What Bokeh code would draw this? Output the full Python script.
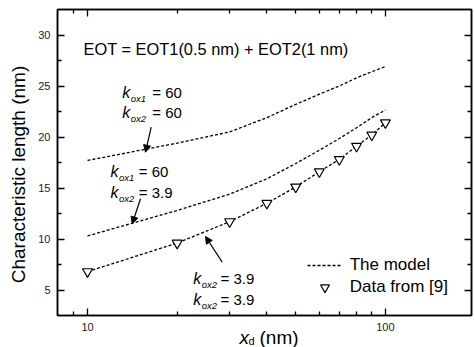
import math
from bokeh.plotting import figure
from bokeh.models import (Range1d, LogAxis, LinearAxis, FixedTicker, Label, Arrow,
                          NormalHead, Legend, LegendItem, PrintfTickFormatter)
from bokeh.embed import file_html
from bokeh.resources import INLINE

# ---------------- data ----------------
xd = [10, 20, 30, 40, 50, 60, 70, 80, 90, 100]
model_k60_k60 = [17.7, 19.4, 20.5, 21.9, 23.2, 24.2, 25.0, 25.8, 26.4, 26.9]
model_k60_k39 = [10.3, 12.8, 14.4, 15.9, 17.4, 18.7, 19.85, 20.9, 21.9, 22.65]
model_k39_k39 = [6.8, 9.6, 11.7, 13.5, 15.1, 16.6, 17.8, 19.1, 20.2, 21.4]
data_x = [10, 20, 30, 40, 50, 60, 70, 80, 90, 100]
data_y = [6.8, 9.6, 11.7, 13.5, 15.1, 16.6, 17.8, 19.1, 20.2, 21.4]

x_major = [10, 100]
x_minor = [9, 20, 30, 40, 50, 60, 70, 80, 90, 200]
y_major = [5, 10, 15, 20, 25, 30]
y_minor = [7.5, 12.5, 17.5, 22.5, 27.5]

title_text = "EOT = EOT1(0.5 nm) + EOT2(1 nm)"
legend_labels = ["The model", "Data from [9]"]
y_label = "Characteristic length (nm)"

# ---------------- layout ----------------
W, H = 474, 347
FL, FT, FW, FH = 57, 9, 414, 306
X0, X1 = 7.93, 194.5
Y0, Y1 = 2.5, 32.5
FONT = "Liberation Sans"


def X(px):
    return 10 ** (math.log10(X0) + (px - FL) / FW * math.log10(X1 / X0))


def Y(py):
    return Y1 - (py - FT) / FH * (Y1 - Y0)


p = figure(width=W, height=H, x_axis_type="log",
           x_range=Range1d(X0, X1), y_range=Range1d(Y0, Y1),
           output_backend="svg", toolbar_location=None,
           min_border_left=FL, min_border_top=FT,
           min_border_right=W - FL - FW, min_border_bottom=H - FT - FH)
p.background_fill_color = "white"
p.border_fill_color = "white"
p.outline_line_color = "black"
p.outline_line_width = 1.5
p.xgrid.visible = False
p.ygrid.visible = False

xt = FixedTicker(ticks=x_major, minor_ticks=x_minor)
yt = FixedTicker(ticks=y_major, minor_ticks=y_minor)


def style_axis(ax, labels=True):
    ax.axis_line_color = "black"
    ax.axis_line_width = 1.5
    ax.major_tick_in = 7
    ax.major_tick_out = 0
    ax.minor_tick_in = 4
    ax.minor_tick_out = 0
    ax.major_tick_line_color = "black"
    ax.minor_tick_line_color = "black"
    ax.major_tick_line_width = 1.3
    ax.minor_tick_line_width = 1.3
    if labels:
        ax.major_label_text_font = FONT
        ax.major_label_text_font_size = "11px"
        ax.major_label_text_color = "#222222"
        ax.major_label_standoff = 7
    else:
        ax.major_label_text_font_size = "1px"
        ax.major_label_text_alpha = 0
        ax.major_label_standoff = 0


p.xaxis[0].ticker = xt
p.xaxis[0].formatter = PrintfTickFormatter(format="%d")
p.yaxis[0].ticker = yt
style_axis(p.xaxis[0])
style_axis(p.yaxis[0])

top = LogAxis(ticker=xt)
style_axis(top, labels=False)
p.add_layout(top, "above")
right = LinearAxis(ticker=yt)
style_axis(right, labels=False)
p.add_layout(right, "right")

# ---------------- curves ----------------
dash = dict(line_color="black", line_width=1.3, line_dash="3 2")
r_model = p.line(xd, model_k60_k60, **dash)
p.line(xd, model_k60_k39, **dash)
p.line(xd, model_k39_k39, **dash)
r_data = p.scatter(data_x, data_y, marker="inverted_triangle", size=10,
                   fill_color="white", line_color="black", line_width=1.2)

legend = Legend(items=[LegendItem(label=legend_labels[0], renderers=[r_model]),
                       LegendItem(label=legend_labels[1], renderers=[r_data])],
                location=(249.7, 17), padding=0, margin=0, spacing=0,
                glyph_width=35, glyph_height=22, label_height=22,
                label_standoff=8, border_line_alpha=0, background_fill_alpha=0,
                label_text_font=FONT, label_text_font_size="17px",
                label_text_color="black")
p.add_layout(legend)


# ---------------- texts inside the frame ----------------
def lab(fig, x, y, text, size, italic=False, baseline="alphabetic", align="left", angle=0.0):
    fig.add_layout(Label(x=x, y=y, text=text, text_font=FONT,
                         text_font_size=size,
                         text_font_style="italic" if italic else "normal",
                         text_color="black", text_baseline=baseline,
                         text_align=align, angle=angle))


lab(p, X(83), Y(48), title_text, "16.4px")

# (k x, baseline y, subscript, right-hand side, x of "=")
k_labels = [
    (121.7, 91.7, "ox1", "= 60", 151.7),
    (121.7, 112.3, "ox2", "= 60", 151.7),
    (110.0, 170.5, "ox1", "= 60", 138.3),
    (110.0, 191.7, "ox2", "= 3.9", 138.3),
    (192.7, 278.3, "ox2", "= 3.9", 220.0),
    (192.7, 299.3, "ox2", "= 3.9", 220.0),
]
for kx, ky, sub, rhs, ex in k_labels:
    lab(p, X(kx), Y(ky), "k", "16px", italic=True)
    lab(p, X(kx + 8.5), Y(ky + 6), sub, "9.5px", italic=True)
    lab(p, X(ex), Y(ky), rhs, "15px")

# arrows
arrows = [((150.7, 126.7), (145.0, 151.7)),
          ((140.0, 198.3), (131.7, 223.3)),
          ((221.7, 261.7), (205.0, 236.0))]
for (sx, sy), (ex, ey) in arrows:
    p.add_layout(Arrow(x_start=X(sx), y_start=Y(sy), x_end=X(ex), y_end=Y(ey),
                       line_color="black", line_width=1.2,
                       end=NormalHead(size=7, fill_color="black", line_color="black")))

# ---------------- transparent overlay (separate root) for the axis titles ----------------
q = figure(width=W, height=H, x_range=Range1d(0, W), y_range=Range1d(0, H),
           output_backend="svg", toolbar_location=None,
           x_axis_location=None, y_axis_location=None, min_border=0)
q.xgrid.visible = False
q.ygrid.visible = False
q.outline_line_color = None
q.background_fill_alpha = 0
q.border_fill_alpha = 0
q.margin = (-H, 0, 0, 0)

lab(q, 17.5, H - 174, y_label, "19px", baseline="middle", align="center", angle=math.pi / 2)
lab(q, 239.0, H - 336.5, "x", "19px", italic=True)
lab(q, 248.0, H - 340.5, "d", "11px")
lab(q, 259.0, H - 336.5, "(nm)", "19px")

open("out.html", "w").write(file_html([p, q], INLINE))
